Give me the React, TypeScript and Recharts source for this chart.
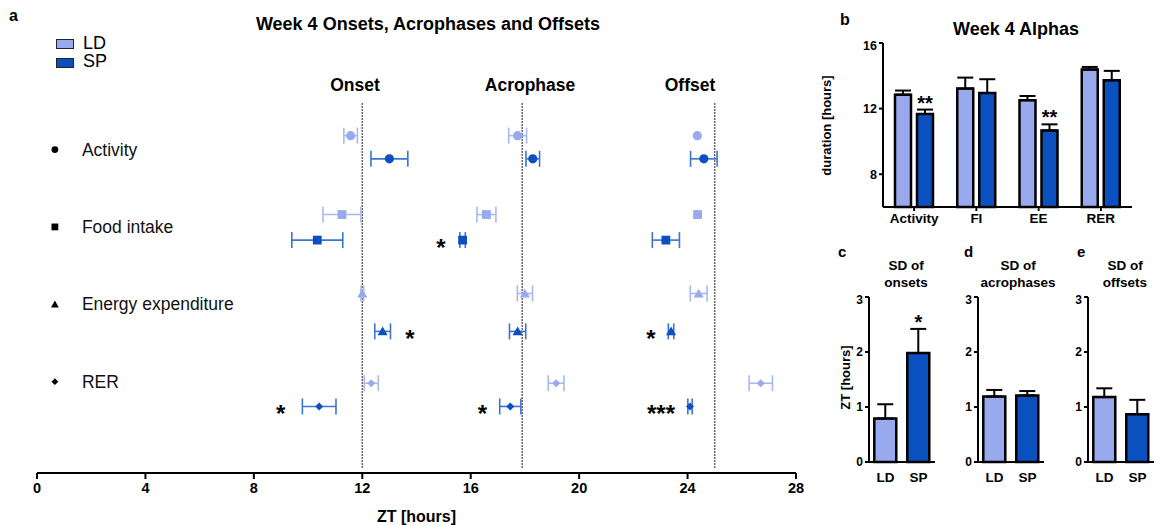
import React from "react";
import {
  ScatterChart,
  Scatter,
  BarChart,
  Bar,
  Cell,
  XAxis,
  YAxis,
  ErrorBar,
  ReferenceLine,
  LabelList,
} from "recharts";

const FONT = "'Liberation Sans', Arial, sans-serif";
const LD_COLOR = "#98a9ee";
const SP_COLOR = "#0a50bf";
const LD_ERR = "#a9b8f1";
const SP_ERR = "#3c74d2";

// panel a: rows (categories) and marker shapes
const categories = ["Activity", "Food intake", "Energy expenditure", "RER"];
const categoryShapes = ["circle", "square", "triangle", "diamond"];
// vertical row placement of LD / SP points (category label sits at 1..4)
const rowLD = [0.82, 1.84, 2.86, 4.02];
const rowSP = [1.12, 2.17, 3.35, 4.32];

// ZT means and SEM
const onsetLD = [11.57, 11.25, 12.0, 12.33];
const onsetLDErr = [0.25, 0.7, 0.05, 0.26];
const onsetSP = [13.0, 10.34, 12.75, 10.41];
const onsetSPErr = [0.68, 0.94, 0.29, 0.62];
const acroLD = [17.73, 16.58, 18.0, 19.15];
const acroLDErr = [0.33, 0.35, 0.28, 0.29];
const acroSP = [18.29, 15.7, 17.73, 17.46];
const acroSPErr = [0.25, 0.1, 0.3, 0.39];
const offsetLD = [24.36, 24.37, 24.41, 26.7];
const offsetLDErr = [0, 0, 0.31, 0.43];
const offsetSP = [24.6, 23.2, 23.39, 24.09];
const offsetSPErr = [0.49, 0.5, 0.1, 0.08];

const phaseLines = [12, 17.9, 25];
const ztTicks = [0, 4, 8, 12, 16, 20, 24, 28];

// significance stars: [zt, category index, text]
const starsA: [number, number, string][] = [
  [14.9, 1, "*"],
  [13.76, 2, "*"],
  [22.65, 2, "*"],
  [8.99, 3, "*"],
  [16.43, 3, "*"],
  [23.02, 3, "***"],
];

// panel b: alphas
const alphaCats = ["Activity", "FI", "EE", "RER"];
const alphaLD = [12.85, 13.22, 12.51, 14.38];
const alphaLDErr = [0.25, 0.67, 0.26, 0.16];
const alphaSP = [11.67, 12.95, 10.67, 13.73];
const alphaSPErr = [0.27, 0.84, 0.37, 0.57];
const alphaSig = ["**", "", "**", ""];

// panels c-e: SD
const sdTitles = ["onsets", "acrophases", "offsets"];
const sdLetters = ["c", "d", "e"];
const sdLD = [0.79, 1.19, 1.18];
const sdLDErr = [0.26, 0.12, 0.16];
const sdSP = [1.98, 1.21, 0.87];
const sdSPErr = [0.44, 0.08, 0.26];
const sdSig = ["*", "", ""];

const makePoints = (
  rows: number[],
  sets: [number[], number[]][]
) =>
  sets.flatMap(([vals, errs]) =>
    vals.map((v, i) => ({ x: v, y: rows[i], err: errs[i], shape: categoryShapes[i] }))
  );

const ldPoints = makePoints(rowLD, [
  [onsetLD, onsetLDErr],
  [acroLD, acroLDErr],
  [offsetLD, offsetLDErr],
]);
const spPoints = makePoints(rowSP, [
  [onsetSP, onsetSPErr],
  [acroSP, acroSPErr],
  [offsetSP, offsetSPErr],
]);
const labelPoints = categories.map((c, i) => ({ x: 0.66, y: i + 1, name: c, shape: categoryShapes[i] }));
const starPoints = starsA.map(([x, ci, t]) => ({ x, y: rowSP[ci], text: t }));

function drawShape(shape: string, cx: number, cy: number, s: number, fill: string) {
  if (shape === "square") return <rect x={cx - s} y={cy - s} width={2 * s} height={2 * s} fill={fill} />;
  if (shape === "triangle")
    return <polygon points={`${cx},${cy - s * 1.1} ${cx + s * 1.15},${cy + s * 0.9} ${cx - s * 1.15},${cy + s * 0.9}`} fill={fill} />;
  if (shape === "diamond")
    return <polygon points={`${cx},${cy - s} ${cx + s},${cy} ${cx},${cy + s} ${cx - s},${cy}`} fill={fill} />;
  return <circle cx={cx} cy={cy} r={s} fill={fill} />;
}

const PointShape = (fill: string) => (props: any) => {
  const { cx, cy, payload } = props;
  const s = payload.shape === "diamond" ? 4 : payload.shape === "circle" ? 4.6 : 4.4;
  return drawShape(payload.shape, cx, cy, s, fill);
};

const LabelShape = (props: any) => {
  const { cx, cy, payload } = props;
  return (
    <g>
      {drawShape(payload.shape, cx, cy, 3.4, "#000")}
      <text x={cx + 27} y={cy + 6} fontSize={17.5} fontFamily={FONT} fill="#111">
        {payload.name}
      </text>
    </g>
  );
};

const StarShape = (props: any) => {
  const { cx, cy, payload } = props;
  return (
    <text x={cx} y={cy + 16} textAnchor="middle" fontSize={24} fontWeight="bold" fontFamily={FONT} fill="#000">
      {payload.text}
    </text>
  );
};

const abs = (left: number, top: number, extra: React.CSSProperties = {}): React.CSSProperties => ({
  position: "absolute",
  left,
  top,
  fontFamily: FONT,
  color: "#000",
  whiteSpace: "nowrap",
  ...extra,
});

const tickStyle = { fill: "#000", fontSize: 13, fontWeight: "bold" as const, fontFamily: FONT };

const alphaData = alphaCats.map((c, i) => ({
  name: c,
  ld: alphaLD[i],
  sp: alphaSP[i],
  ldErr: [0, alphaLDErr[i]],
  spErr: [0, alphaSPErr[i]],
  sig: alphaSig[i],
  spE: alphaSPErr[i],
}));

const B_PX = 164 / 10; // px per hour in panel b

function SdPanel({ idx, axisX }: { idx: number; axisX: number }) {
  const data = [
    { name: "LD", v: sdLD[idx], err: [0, sdLDErr[idx]], sig: "", e: sdLDErr[idx] },
    { name: "SP", v: sdSP[idx], err: [0, sdSPErr[idx]], sig: sdSig[idx], e: sdSPErr[idx] },
  ];
  const pxPer = 165 / 3;
  return (
    <div style={abs(axisX - 30, 292)}>
      <BarChart width={96} height={197} data={data} margin={{ top: 5, right: 0, left: 0, bottom: 0 }} barCategoryGap="16%">
        <XAxis
          dataKey="name"
          height={27}
          axisLine={{ stroke: "#000", strokeWidth: 2 }}
          tickLine={false}
          tick={{ ...tickStyle, fontSize: 13.5 }}
          tickMargin={4}
        />
        <YAxis
          width={30}
          domain={[0, 3]}
          ticks={[0, 1, 2, 3]}
          axisLine={{ stroke: "#000", strokeWidth: 2 }}
          tickLine={{ stroke: "#000", strokeWidth: 2 }}
          tickSize={4}
          tick={{ ...tickStyle, fontSize: 12 }}
          tickMargin={2}
        />
        <Bar dataKey="v" isAnimationActive={false} stroke="#000" strokeWidth={2.5}>
          {data.map((d, i) => (
            <Cell key={d.name} fill={i === 0 ? LD_COLOR : SP_COLOR} />
          ))}
          <ErrorBar dataKey="err" width={8} stroke="#000" strokeWidth={2} direction="y" />
          <LabelList
            dataKey="sig"
            content={(p: any) =>
              p.value ? (
                <text
                  x={p.x + p.width / 2}
                  y={p.y - data[p.index].e * pxPer}
                  textAnchor="middle"
                  fontSize={20}
                  fontWeight="bold"
                  fontFamily={FONT}
                  fill="#000"
                >
                  {p.value}
                </text>
              ) : null
            }
          />
        </Bar>
      </BarChart>
    </div>
  );
}

const sdLetterX = [838, 964, 1077];

export default function App() {
  return (
    <div style={{ position: "absolute", left: 0, top: 0, width: 1154, height: 525, background: "#fff", fontFamily: FONT }}>
      {/* panel a */}
      <div style={abs(9, 7, { fontSize: 16, fontWeight: "bold" })}>a</div>
      <div style={abs(228, 14, { width: 400, textAlign: "center", fontSize: 18, fontWeight: "bold" })}>
        Week 4 Onsets, Acrophases and Offsets
      </div>
      <div style={abs(56, 39, { width: 16, height: 8, background: LD_COLOR, border: "1.5px solid #222" })} />
      <div style={abs(56, 58, { width: 16, height: 8, background: SP_COLOR, border: "1.5px solid #222" })} />
      <div style={abs(83, 33, { fontSize: 18 })}>LD</div>
      <div style={abs(83, 51, { fontSize: 18 })}>SP</div>
      <div style={abs(305, 75, { width: 100, textAlign: "center", fontSize: 17.5, fontWeight: "bold" })}>Onset</div>
      <div style={abs(470, 75, { width: 120, textAlign: "center", fontSize: 17.5, fontWeight: "bold" })}>Acrophase</div>
      <div style={abs(640, 75, { width: 100, textAlign: "center", fontSize: 17.5, fontWeight: "bold" })}>Offset</div>

      <div style={abs(0, 0)}>
        <ScatterChart width={830} height={525} margin={{ top: 66, right: 34, left: 37, bottom: 0 }}>
          <XAxis
            type="number"
            dataKey="x"
            domain={[0, 28]}
            ticks={ztTicks}
            height={52}
            axisLine={{ stroke: "#000", strokeWidth: 2 }}
            tickLine={{ stroke: "#000", strokeWidth: 2 }}
            tickSize={6}
            tickMargin={4}
            tick={{ ...tickStyle, fontSize: 14.5 }}
            label={{ value: "ZT [hours]", position: "insideBottom", offset: 3, fill: "#000", fontSize: 16, fontWeight: "bold", fontFamily: FONT }}
          />
          <YAxis
            type="number"
            dataKey="y"
            domain={[-0.08, 5.18]}
            reversed
            width={0}
            tick={false}
            tickLine={false}
            axisLine={{ stroke: "#000", strokeWidth: 2 }}
          />
          {phaseLines.map((x) => (
            <ReferenceLine
              key={x}
              segment={[
                { x, y: 0.4 },
                { x, y: 5.13 },
              ]}
              stroke="#333"
              strokeWidth={1.5}
              strokeDasharray="1.5 1.5"
            />
          ))}
          <Scatter data={labelPoints} shape={LabelShape} isAnimationActive={false} />
          <Scatter data={ldPoints} fill={LD_COLOR} shape={PointShape(LD_COLOR)} isAnimationActive={false}>
            <ErrorBar dataKey="err" direction="x" width={8} stroke={LD_ERR} strokeWidth={1.6} />
          </Scatter>
          <Scatter data={spPoints} fill={SP_COLOR} shape={PointShape(SP_COLOR)} isAnimationActive={false}>
            <ErrorBar dataKey="err" direction="x" width={8} stroke={SP_ERR} strokeWidth={1.6} />
          </Scatter>
          <Scatter data={starPoints} shape={StarShape} isAnimationActive={false} />
        </ScatterChart>
      </div>

      {/* panel b */}
      <div style={abs(840, 11, { fontSize: 16, fontWeight: "bold" })}>b</div>
      <div style={abs(936, 19, { width: 160, textAlign: "center", fontSize: 18, fontWeight: "bold" })}>Week 4 Alphas</div>
      <div
        style={abs(766, 118, {
          width: 120,
          textAlign: "center",
          fontSize: 13,
          fontWeight: "bold",
          transform: "rotate(-90deg)",
          transformOrigin: "center",
        })}
      >
        duration [hours]
      </div>
      <div style={abs(853, 38)}>
        <BarChart width={279} height={196} data={alphaData} margin={{ top: 5, right: 0, left: 0, bottom: 0 }} barSize={16} barGap={6}>
          <XAxis
            dataKey="name"
            height={27}
            axisLine={{ stroke: "#000", strokeWidth: 2 }}
            tickLine={{ stroke: "#000", strokeWidth: 2 }}
            tickSize={4}
            tickMargin={2}
            tick={{ ...tickStyle, fontSize: 13.5 }}
          />
          <YAxis
            width={30}
            domain={[6, 16]}
            ticks={[8, 12, 16]}
            axisLine={{ stroke: "#000", strokeWidth: 2 }}
            tickLine={{ stroke: "#000", strokeWidth: 2 }}
            tickSize={4}
            tickMargin={2}
            tick={{ ...tickStyle, fontSize: 12.5 }}
          />
          <Bar dataKey="ld" fill={LD_COLOR} stroke="#000" strokeWidth={2.5} isAnimationActive={false}>
            <ErrorBar dataKey="ldErr" width={8} stroke="#000" strokeWidth={2} direction="y" />
          </Bar>
          <Bar dataKey="sp" fill={SP_COLOR} stroke="#000" strokeWidth={2.5} isAnimationActive={false}>
            <ErrorBar dataKey="spErr" width={8} stroke="#000" strokeWidth={2} direction="y" />
            <LabelList
              dataKey="sig"
              content={(p: any) =>
                p.value ? (
                  <text
                    x={p.x + p.width / 2}
                    y={p.y - alphaData[p.index].spE * B_PX}
                    textAnchor="middle"
                    fontSize={20}
                    fontWeight="bold"
                    fontFamily={FONT}
                    fill="#000"
                  >
                    {p.value}
                  </text>
                ) : null
              }
            />
          </Bar>
        </BarChart>
      </div>

      {/* panels c, d, e */}
      {[869, 978, 1088].map((axisX, i) => (
        <React.Fragment key={i}>
          <div style={abs(sdLetterX[i], 243, { fontSize: 15, fontWeight: "bold" })}>{sdLetters[i]}</div>
          <div style={abs(axisX - 28 + (i === 1 ? 3 : 0), 257, { width: 130, textAlign: "center", fontSize: 13.5, fontWeight: "bold", lineHeight: "17px" })}>
            SD of
            <br />
            {sdTitles[i]}
          </div>
          <SdPanel idx={i} axisX={axisX} />
        </React.Fragment>
      ))}
      <div
        style={abs(800, 370, {
          width: 90,
          textAlign: "center",
          fontSize: 13,
          fontWeight: "bold",
          transform: "rotate(-90deg)",
          transformOrigin: "center",
        })}
      >
        ZT [hours]
      </div>
    </div>
  );
}
